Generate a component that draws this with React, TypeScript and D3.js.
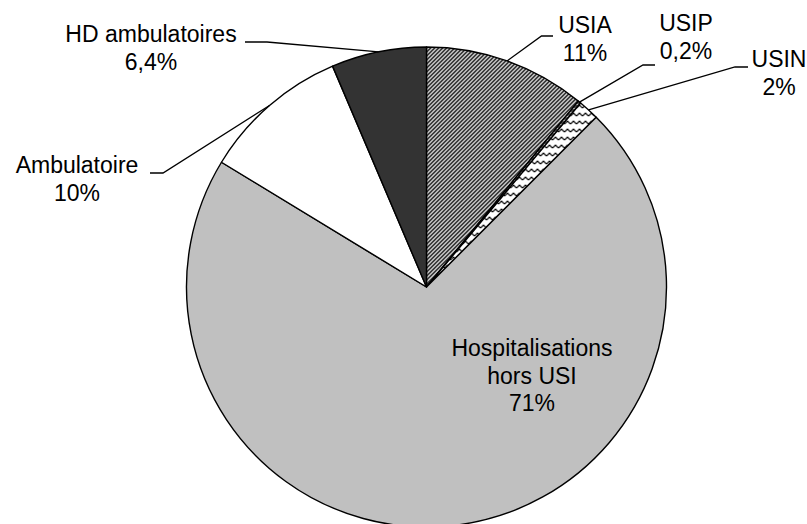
import React from "react";
import * as d3 from "d3";

const categories = ["USIA", "USIP", "USIN", "Hospitalisations hors USI", "Ambulatoire", "HD ambulatoires"];
const values = [10.9, 0.2, 1.4, 71.2, 9.9, 6.4];
const labelLines = [["USIA", "11%"], ["USIP", "0,2%"], ["USIN", "2%"], ["Hospitalisations", "hors USI", "71%"], ["Ambulatoire", "10%"], ["HD ambulatoires", "6,4%"]];

// layout (positions of labels and leader-line elbows)
const labelLayout = [
  { x: 585, y: 33, elbow: [541.5, 36], end: [553, 36] },
  { x: 686, y: 31, elbow: [643, 65], end: [655, 65] },
  { x: 779, y: 67, elbow: [735, 67], end: [748, 67] },
  { x: 532, y: 356, elbow: null, end: null },
  { x: 77, y: 173, elbow: [163, 173], end: [150, 173] },
  { x: 151, y: 42, elbow: [267, 42], end: [245, 42] },
];
const fills = ["url(#pUSIA)", "url(#pUSIP)", "url(#pUSIN)", "#C0C0C0", "#FFFFFF", "#333333"];

const W = 807, H = 524;
const cx = 426.5, cy = 287, R = 240;

export default function App() {
  const pie = d3.pie<number>().sort(null).value((d) => d);
  const arcs = pie(values);
  const arcGen = d3.arc<d3.PieArcDatum<number>>().innerRadius(0).outerRadius(R);
  const lineGen = d3.line();

  return (
    <svg width={W} height={H} style={{ position: "absolute", left: 0, top: 0, background: "#fff" }}
      fontFamily="'Liberation Sans', Arial, sans-serif">
      <defs>
        <pattern id="pUSIA" patternUnits="userSpaceOnUse" width={4} height={4}>
          <rect width={4} height={4} fill="#fff" />
          <polygon points="0,0 2.2,0 0,2.2" fill="#111" />
          <polygon points="4,0 4,2.2 2.2,4 0,4" fill="#111" />
        </pattern>
        <pattern id="pUSIP" patternUnits="userSpaceOnUse" width={4} height={4}>
          <rect width={4} height={4} fill="#444" />
          <path d="M0,2 L2,1 L4,2" stroke="#fff" strokeWidth={0.8} fill="none" />
        </pattern>
        <pattern id="pUSIN" patternUnits="userSpaceOnUse" width={6} height={8}>
          <rect width={6} height={8} fill="#fff" />
          <path d="M0,5 L3,2 L6,5" stroke="#000" strokeWidth={1.2} fill="none" />
        </pattern>
      </defs>
      <g transform={`translate(${cx},${cy})`}>
        {arcs.map((a, i) => (
          <path key={categories[i]} d={arcGen(a) || ""} fill={fills[i]} stroke="#000" strokeWidth={1.4} strokeLinejoin="round" />
        ))}
      </g>
      {arcs.map((a, i) => {
        const lay = labelLayout[i];
        if (!lay.elbow || !lay.end) return null;
        const mid = (a.startAngle + a.endAngle) / 2;
        const p0: [number, number] = [cx + R * Math.sin(mid), cy - R * Math.cos(mid)];
        return (
          <path key={"l" + i} d={lineGen([p0, lay.elbow as [number, number], lay.end as [number, number]]) || ""}
            fill="none" stroke="#000" strokeWidth={1.3} />
        );
      })}
      {labelLines.map((lines, i) => (
        <text key={"t" + i} x={labelLayout[i].x} y={labelLayout[i].y} textAnchor="middle" fontSize={23} fill="#000">
          {lines.map((s, j) => (
            <tspan key={j} x={labelLayout[i].x} dy={j === 0 ? 0 : 27.5}>{s}</tspan>
          ))}
        </text>
      ))}
    </svg>
  );
}
